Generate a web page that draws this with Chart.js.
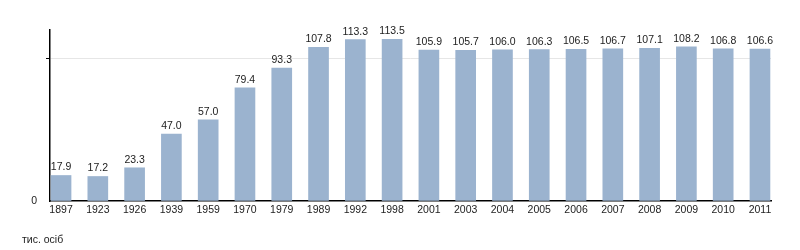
<!DOCTYPE html>
<html><head><meta charset="utf-8">
<script src="https://cdn.jsdelivr.net/npm/chart.js@4/dist/chart.umd.min.js"></script>
<style>
html,body{margin:0;padding:0;background:#fff;}
#wrap{position:relative;width:800px;height:250px;}
#unit{position:absolute;left:22px;top:233px;font:10.5px "Liberation Sans",Arial,sans-serif;color:#222;}
</style></head>
<body>
<div id="wrap"><canvas id="c" width="800" height="250"></canvas><div id="unit">тис. осіб</div></div>
<script>
const years = ['1897','1923','1926','1939','1959','1970','1979','1989','1992','1998','2001','2003','2004','2005','2006','2007','2008','2009','2010','2011'];
const population = [17.9,17.2,23.3,47.0,57.0,79.4,93.3,107.8,113.3,113.5,105.9,105.7,106.0,106.3,106.5,106.7,107.1,108.2,106.8,106.6];
const yTicks = [0,100];

const FONT = '"Liberation Sans", Arial, sans-serif';
const labelPlugin = {
  id:'vals',
  afterDatasetsDraw(chart){
    const ctx = chart.ctx;
    const meta = chart.getDatasetMeta(0);
    ctx.save();
    ctx.font = '10.5px ' + FONT;
    ctx.fillStyle = '#222';
    ctx.textAlign = 'center';
    ctx.textBaseline = 'alphabetic';
    meta.data.forEach((bar,i)=>{
      ctx.fillText(population[i].toFixed(1), bar.x, bar.y - 5);
    });
    ctx.restore();
  }
};

new Chart(document.getElementById('c'), {
  type:'bar',
  data:{
    datasets:[{
      data: population.map((v,i)=>({x:i,y:v})),
      backgroundColor:'#9bb3cf',
      borderWidth:0,
      barThickness:20
    }]
  },
  options:{
    responsive:false,
    animation:false,
    layout:{padding:{left:0,right:29,top:30,bottom:31}},
    plugins:{legend:{display:false},tooltip:{enabled:false}},
    scales:{
      x:{
        type:'linear',
        offset:false,
        min:-0.3, max:19.3,
        afterBuildTicks(axis){ axis.ticks = years.map((y,i)=>({value:i})); },
        afterFit(axis){ axis.height = 18; },
        ticks:{
          callback:(v)=>years[v],
          autoSkip:false, maxRotation:0, padding:3,
          color:'#222', font:{family:FONT,size:10.5}
        },
        grid:{display:false, drawTicks:false},
        border:{display:true,color:'#000',width:1.5}
      },
      y:{
        min:0, max:120,
        afterBuildTicks(axis){ axis.ticks = yTicks.map(v=>({value:v})); },
        afterFit(axis){ axis.width = 50; },
        ticks:{
          callback:(v)=> v===0 ? '0' : '',
          padding:9, color:'#222', font:{family:FONT,size:10.5}
        },
        grid:{
          color:(c)=> c.tick && c.tick.value===100 ? '#e6e6e6' : 'rgba(0,0,0,0)',
          tickColor:(c)=> c.tick && c.tick.value===100 ? '#000' : 'rgba(0,0,0,0)',
          tickLength:4, lineWidth:1
        },
        border:{display:true,color:'#000',width:1.5}
      }
    }
  },
  plugins:[labelPlugin]
});
</script>
</body></html>
